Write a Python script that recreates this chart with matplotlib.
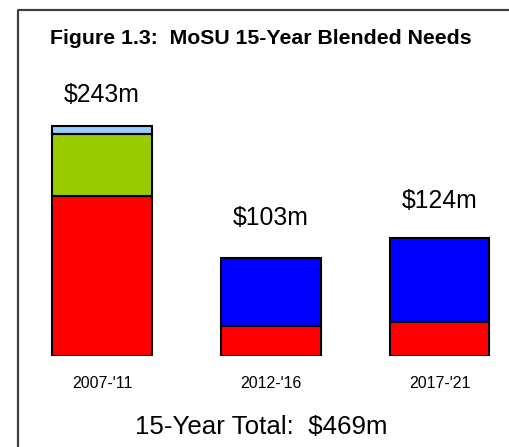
import matplotlib.pyplot as plt
from matplotlib.lines import Line2D

# valores em milhoes de dolares
periods = ["2007-'11", "2012-'16", "2017-'21"]
seg_red = [169, 32, 36]
seg_green = [65, 0, 0]
seg_lightblue = [9, 0, 0]
seg_blue = [0, 71, 88]
totals = [243, 103, 124]
total_label = "15-Year Total:  $469m"

segments = [
    (seg_red, '#FF0000'),
    (seg_green, '#99CC00'),
    (seg_lightblue, '#99CCFF'),
    (seg_blue, '#0000FF'),
]

plt.rcParams['font.family'] = ['Liberation Sans', 'DejaVu Sans']

W, H = 510, 447
fig = plt.figure(figsize=(W / 100, H / 100), dpi=100)

# eixo em coordenadas de pixel: base das barras em y=356 (a partir do topo)
base_px = 356
ax = fig.add_axes([0, (H - base_px) / H, 1, base_px / H])
px_per_unit_x = 168.75
x0 = 102
ax.set_xlim(-x0 / px_per_unit_x, (W - x0) / px_per_unit_x)
px_per_m = 0.9477
ax.set_ylim(0, base_px / px_per_m)
ax.axis('off')

xs = list(range(len(periods)))
bottoms = [0] * len(periods)
for values, color in segments:
    for i, v in enumerate(values):
        if v > 0:
            ax.bar(xs[i], v, width=0.592, bottom=bottoms[i], color=color,
                   edgecolor='black', linewidth=1.5, zorder=2)
    bottoms = [b + v for b, v in zip(bottoms, values)]

label_gap = [31, 40, 37]
for i, t in enumerate(totals):
    ax.annotate('$%dm' % t, (xs[i], t), xytext=(0, label_gap[i] * 0.72),
                textcoords='offset points', ha='center', va='center',
                fontsize=17.8, color='black')

for i, p in enumerate(periods):
    ax.annotate(p, (xs[i], 0), xytext=(0, -27 * 0.72), textcoords='offset points',
                ha='center', va='center', fontsize=11.5)

fig.text(261.5 / W, 1 - 427 / H, total_label, ha='center', va='center', fontsize=18.6)
fig.text(50 / W, 1 - 38 / H, 'Figure 1.3:  MoSU 15-Year Blended Needs',
         ha='left', va='center', fontsize=15.3, fontweight='bold')

# moldura (apenas esquerda e topo visiveis)
fig.add_artist(Line2D([18 / W, 18 / W, 1], [0, 1 - 9.5 / H, 1 - 9.5 / H],
                      transform=fig.transFigure, color='#404040', linewidth=1.6))

fig.savefig('out.png', dpi=100)
